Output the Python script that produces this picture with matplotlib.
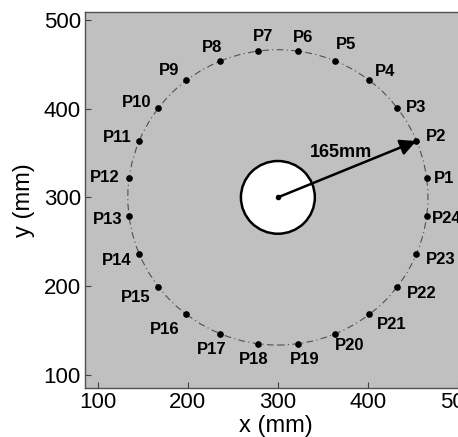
import matplotlib
matplotlib.use("Agg")
import matplotlib.pyplot as plt
from matplotlib.patches import Circle

plt.rcParams['font.family'] = ['Liberation Sans', 'DejaVu Sans']

# Data
labels = [f"P{i}" for i in range(1, 25)]
px = [465.0, 453.5, 432.0, 401.0, 363.5, 322.0, 278.0, 236.0, 198.5, 167.5, 146.0, 135.0,
      135.0, 146.0, 167.5, 198.5, 236.0, 278.0, 322.0, 363.5, 401.0, 432.0, 453.5, 465.0]
py = [321.5, 363.5, 401.0, 432.0, 453.5, 465.0, 465.0, 453.5, 432.0, 401.0, 363.5, 321.5,
      278.5, 236.5, 199.0, 168.0, 146.5, 135.0, 135.0, 146.5, 168.0, 199.0, 236.5, 278.5]
center = (300, 300)
ring_radius = 166.5
hole_radius = 41
radius_label = "165mm"
ticks = [100, 200, 300, 400, 500]

# label offsets in pixels (positions only)
offsets = [(17, 0), (20, 5), (19, 0), (16, 9), (11, 17), (5, 14), (5, 15), (-8, 14),
           (-17, 10), (-22, 5), (-22, 4), (-24, 1), (-21, -3), (-22, -7), (-23, -11),
           (-22, -15), (-9, -16), (-4, -16), (7, -16), (15, -12), (23, -10), (25, -7),
           (24, -6), (20, -2)]

fig = plt.figure(figsize=(4.58, 4.37), dpi=100)
ax = fig.add_axes([0.1856, 0.112, 0.8144 + 0.02, 0.8605])
ax.set_facecolor('#c0c0c0')
ax.set_xlim(86, 510)
ax.set_ylim(85, 509)

ax.add_patch(Circle(center, ring_radius, fill=False, edgecolor='#505050', lw=0.8,
                    linestyle=(0, (6, 3, 1, 3)), zorder=2))
ax.add_patch(Circle(center, hole_radius, facecolor='white', edgecolor='black', lw=1.8, zorder=3))

ax.plot(px, py, 'o', color='black', ms=3.8, zorder=4)
for lab, x, y, off in zip(labels, px, py, offsets):
    ax.annotate(lab, (x, y), xytext=off, textcoords='offset pixels', ha='center', va='center',
                fontsize=12, fontweight='bold', zorder=5)

ax.plot([center[0]], [center[1]], 'o', color='black', ms=3, zorder=6)
ax.annotate('', xy=(px[1], py[1]), xytext=center,
            arrowprops=dict(arrowstyle='-|>', mutation_scale=24, color='black', lw=1.8,
                            shrinkA=0, shrinkB=0), zorder=6)
ax.text(370, 351, radius_label, ha='center', va='center', fontsize=13, fontweight='bold', zorder=6)

ax.set_xticks(ticks)
ax.set_yticks(ticks)
ax.tick_params(direction='in', length=4, labelsize=16, color='#404040', top=False, right=False,
               pad=3)
for s in ax.spines.values():
    s.set_color('#505050')
    s.set_linewidth(1.0)
ax.set_xlabel('x (mm)', fontsize=17, labelpad=1)
ax.set_ylabel('y (mm)', fontsize=17, labelpad=6)

fig.savefig('out.png', dpi=100)
